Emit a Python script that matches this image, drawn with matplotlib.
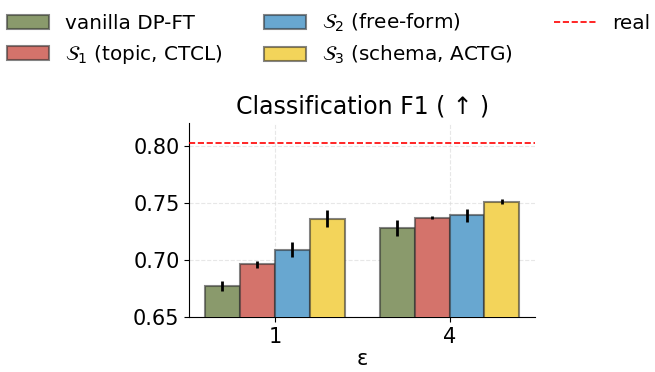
import numpy as np
import matplotlib.pyplot as plt

eps = ["1", "4"]
methods = ["vanilla DP-FT", r"$\mathcal{S}_1$ (topic, CTCL)",
           r"$\mathcal{S}_2$ (free-form)", r"$\mathcal{S}_3$ (schema, ACTG)"]
f1 = [[0.677, 0.728],
      [0.696, 0.737],
      [0.709, 0.739],
      [0.736, 0.751]]
f1_err = [[0.0047, 0.0069],
          [0.0032, 0.0012],
          [0.0069, 0.0058],
          [0.0073, 0.0019]]
real_f1 = 0.802
colors = ["#8a9a6c", "#d4736b", "#68a7d0", "#f3d45a"]

fig = plt.figure(figsize=(6.55, 3.72), dpi=100)
ax = fig.add_axes([0.289, 0.148, 0.528, 0.522])

x = np.arange(len(eps))
w = 0.2
handles = []
for i, m in enumerate(methods):
    b = ax.bar(x + (i - 1.5) * w, f1[i], w, yerr=f1_err[i], color=colors[i],
               edgecolor=(0.2, 0.2, 0.2, 0.6), linewidth=1.5, label=m,
               error_kw=dict(ecolor="black", elinewidth=2, capsize=0), zorder=3)
    handles.append(b)
h_real = ax.axhline(real_f1, color="red", linestyle="--", linewidth=1.2, label="real", zorder=4)

ax.set_ylim(0.65, 0.82)
ax.set_xlim(-0.49, 1.49)
ax.set_xticks(x)
ax.set_xticklabels(eps)
ax.set_yticks([0.65, 0.70, 0.75, 0.80])
ax.tick_params(labelsize=15)
ax.set_xlabel("ε", fontsize=15, labelpad=2)
ax.set_title("Classification F1 ( ↑ )", fontsize=17, pad=7)
ax.grid(True, linestyle="--", color="#dddddd", alpha=0.7, zorder=0)
ax.spines["top"].set_visible(False)
ax.spines["right"].set_visible(False)

fig.legend(handles + [h_real], methods + ["real"], ncol=3, frameon=False,
           loc="upper left", bbox_to_anchor=(-0.007, 1.0), borderaxespad=0.2,
           fontsize=14.4, handlelength=2.1, handleheight=0.7,
           labelspacing=0.48, columnspacing=2.05)

fig.savefig("out.png", dpi=100)
